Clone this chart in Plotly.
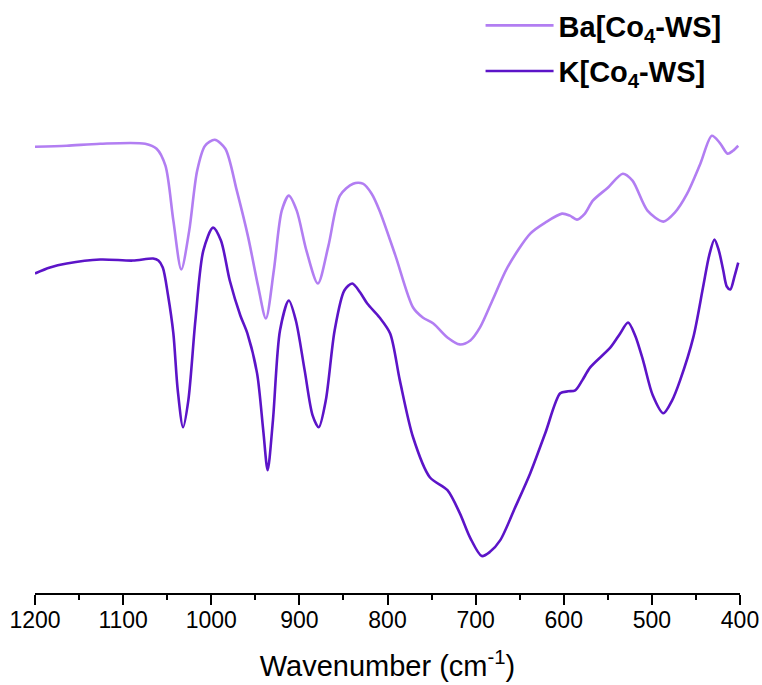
import plotly.graph_objects as go

# Wavenumber (cm-1) and relative transmittance (a.u.)
ba_wn = [1200, 1164, 1126, 1075, 1062, 1052, 1043, 1034, 1025, 1016, 1007, 996, 984, 971, 958, 947, 938,
         929, 920, 912, 903, 892, 879, 867, 854, 839, 828, 818, 809, 791, 771, 760, 748, 732, 718, 706,
         695, 680, 664, 638, 621, 602, 593, 585, 576, 567, 550, 533, 522, 505, 487, 474, 460, 445, 432,
         423, 414, 408, 402]
ba_t = [446, 447, 449, 449, 444, 427, 372, 323, 362, 422, 447, 453, 444, 402, 355, 307, 274,
        322, 382, 397, 382, 342, 309, 347, 397, 409, 409, 399, 382, 337, 285, 275, 269, 255, 248, 252,
        265, 294, 325, 359, 370, 379, 377, 373, 379, 392, 405, 419, 412, 382, 371, 380, 399, 429, 457,
        450, 439, 442, 447]

k_wn = [1200, 1183, 1164, 1126, 1089, 1066, 1060, 1055, 1049, 1043, 1038, 1032, 1026, 1018, 1009, 998,
        989, 979, 967, 959, 948, 941, 936, 930, 922, 912, 904, 894, 885, 878, 870, 860, 849, 840, 831,
        823, 809, 797, 786, 771, 752, 732, 718, 706, 693, 684, 672, 655, 638, 621, 604, 595, 587, 579,
        570, 547, 536, 527, 519, 510, 499, 487, 477, 468, 453, 442, 435, 429, 424, 419, 415, 411, 406, 402]
k_t = [319, 325, 329, 333, 332, 334, 332, 325, 297, 259, 202, 165, 192, 272, 342, 365,
       352, 312, 277, 259, 219, 162, 122, 172, 262, 292, 272, 222, 177, 165, 192, 262, 302, 309, 300,
       289, 275, 259, 212, 155, 115, 102, 79, 54, 36, 40, 52, 85, 119, 159, 199, 201, 202, 212,
       225, 245, 259, 270, 257, 232, 197, 179, 192, 212, 255, 305, 337, 353, 342, 322, 306, 303, 317, 330]

series_names = ["Ba[Co<sub>4</sub>-WS]", "K[Co<sub>4</sub>-WS]"]
series_colors = ["#B27EF2", "#5C14C8"]

fig = go.Figure()
fig.add_trace(go.Scatter(x=ba_wn, y=ba_t, mode="lines", name=series_names[0], legendgroup="a",
                         line=dict(color=series_colors[0], width=2.6, shape="spline", smoothing=0.8)))
fig.add_trace(go.Scatter(x=k_wn, y=k_t, mode="lines", name=series_names[1], legendgroup="b",
                         line=dict(color=series_colors[1], width=2.6, shape="spline", smoothing=0.8)))

fig.update_layout(
    width=762, height=685,
    margin=dict(l=35, r=22, t=0, b=92),
    paper_bgcolor="white", plot_bgcolor="white",
    font=dict(family="Liberation Sans, Arial, sans-serif", color="black"),
    showlegend=True,
    legend=dict(x=0.632, y=1.0, xanchor="left", yanchor="top",
                font=dict(size=29, family="Liberation Sans, Arial, sans-serif", weight="bold"),
                itemwidth=68, tracegroupgap=5, bgcolor="rgba(0,0,0,0)"),
    xaxis=dict(range=[1200, 400], autorange=False,
               showline=True, linecolor="black", linewidth=2, mirror=False,
               ticks="outside", ticklen=10, tickwidth=2, tickcolor="black",
               dtick=100, tick0=400, showgrid=False, zeroline=False,
               tickfont=dict(size=23), ticklabelstandoff=-5,
               minor=dict(ticks="outside", ticklen=5, tickwidth=2, tickcolor="black", dtick=50, showgrid=False),
               title=dict(text="Wavenumber (cm<sup>-1</sup>)", font=dict(size=29), standoff=24)),
    yaxis=dict(range=[-1, 593], autorange=False, visible=False, showgrid=False, zeroline=False),
)

fig.write_html("out.html")
